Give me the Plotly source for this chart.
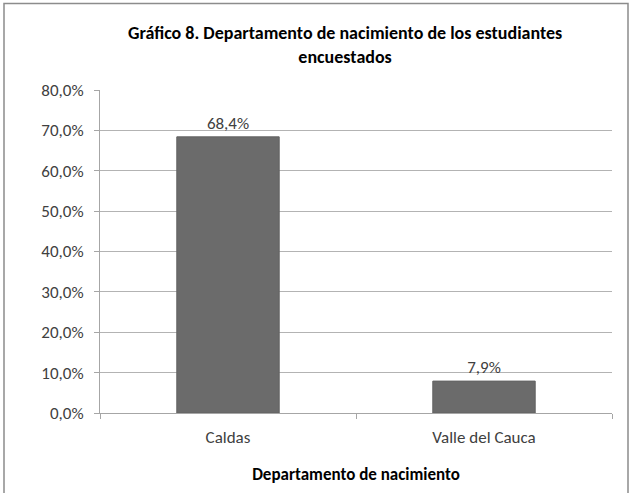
import plotly.graph_objects as go

categories = ["Caldas", "Valle del Cauca"]
values = [0.684, 0.079]
y_ticks = [0, 0.1, 0.2, 0.3, 0.4, 0.5, 0.6, 0.7, 0.8]

font_family = "Carlito, Lato, sans-serif"

fig = go.Figure(
    go.Bar(
        x=categories,
        y=values,
        marker=dict(color="#6b6b6b", line=dict(color="#636363", width=1)),
        width=0.4,
        texttemplate="%{y:.1%}",
        textposition="outside",
        textfont=dict(size=17, color="#404040", family=font_family),
        cliponaxis=False,
        hoverinfo="skip",
    )
)

fig.update_layout(
    width=632,
    height=493,
    margin=dict(l=100, r=20, t=90, b=80),
    paper_bgcolor="white",
    plot_bgcolor="white",
    separators=",.",
    showlegend=False,
    font=dict(family=font_family, color="#404040"),
    title=dict(
        text="<b>Gráfico 8. Departamento de nacimiento de los estudiantes<br>encuestados</b>",
        x=0.546,
        xanchor="center",
        y=0.92,
        yanchor="middle",
        font=dict(size=18, color="#000000", family=font_family),
    ),
    xaxis=dict(
        showline=True,
        linecolor="#a6a6a6",
        linewidth=1,
        ticks="outside",
        tickson="boundaries",
        ticklen=5,
        tickcolor="#a6a6a6",
        tickfont=dict(size=17, color="#404040"),
        ticklabelstandoff=9,
        showgrid=False,
        title=dict(
            text="<b>Departamento de nacimiento</b>",
            font=dict(size=17, color="#000000"),
            standoff=20,
        ),
    ),
    yaxis=dict(
        range=[0, 0.8],
        tickvals=y_ticks,
        tickformat=".1%",
        showline=True,
        linecolor="#a6a6a6",
        linewidth=1,
        ticks="outside",
        ticklen=5,
        tickcolor="#a6a6a6",
        ticklabelstandoff=7,
        showgrid=True,
        gridcolor="#b3b3b3",
        gridwidth=1,
        zeroline=False,
        tickfont=dict(size=17, color="#404040"),
    ),
    shapes=[
        dict(
            type="rect",
            xref="paper",
            yref="paper",
            x0=-0.1875,
            x1=1.03125,
            y0=-0.4,
            y1=1.268,
            line=dict(color="#8c8c8c", width=1.5),
            fillcolor="rgba(0,0,0,0)",
            layer="below",
        )
    ],
)

fig.write_html(
    "out.html",
    config={"displayModeBar": False},
    post_script="document.body.style.margin='0';document.body.style.overflow='hidden';",
)
